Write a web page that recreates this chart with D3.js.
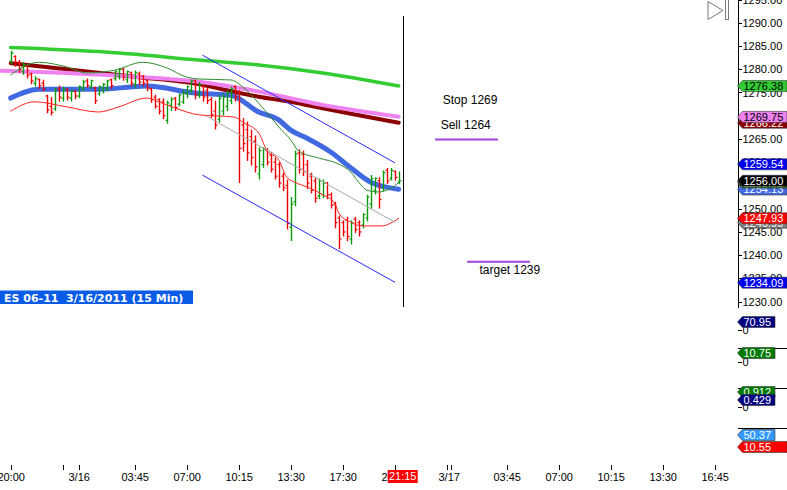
<!DOCTYPE html>
<html>
<head>
<meta charset="utf-8">
<title>ES 06-11 3/16/2011 (15 Min)</title>
<style>
  html, body { margin: 0; padding: 0; background: #fff; }
  svg { display: block; font-family: "Liberation Sans", Arial, sans-serif; }
  .axis text { font-size: 11px; fill: #000; }
  .axis line, .axis path { stroke: #000; shape-rendering: crispEdges; }
  .note { font-size: 12px; fill: #000; }
  .tag text { font-size: 11px; }
</style>
<script src="https://cdn.jsdelivr.net/npm/d3@7"></script>
</head>
<body>
<div id="main"></div>
<script>
// 15 minute bars, index 0 = 20:00 on 3/15
var barOpen  = [1281.75,1282.75,1281.5,1279.5,1280.75,1279,1277,1277.75,1277,1274.25,
                1272,1271.5,1275.75,1273.75,1275.5,1273.75,1275.25,1274.25,1276,1277.5,
                1276.25,1276,1274.75,1275.5,1276,1277.75,1278,1278.5,1280,1277.75,
                1279.25,1276.75,1279,1278.5,1277.5,1275.75,1274,1273.5,1273,1269,
                1272.25,1273.75,1272.5,1273,1274.75,1275.5,1277.5,1274.5,1276.25,1275.5,
                1273.5,1271,1269.25,1271,1272,1273.25,1276.25,1275,1268,1267,
                1265.5,1264.5,1257.5,1259.5,1262.5,1261.5,1260,1259.5,1257,1255,
                1246,1251.5,1262,1261.75,1259.5,1257,1256,1252.75,1253,1255.5,
                1253,1251,1248,1247,1247.5,1243.5,1247.75,1247,1246.5,1248,
                1251,1254,1256,1254.5,1258.25,1256.5,1258,1255.75];
var barHigh  = [1284,1283,1282,1281.5,1281,1279.25,1278.5,1278,1277.75,1274.5,
                1274,1276,1276.5,1276.25,1276,1275.5,1275.5,1276.5,1277.75,1278,
                1277.75,1276.25,1276.5,1277,1277.75,1278,1279.75,1280.25,1280.25,1279.75,
                1279.5,1279.75,1279.5,1278.75,1277.75,1276,1274.5,1273.75,1273.75,1273.25,
                1274,1274,1274.75,1275.5,1276.5,1277.75,1277.75,1277.25,1276.5,1276,
                1274,1273.25,1274.5,1274.75,1275.5,1276.25,1276.5,1275.5,1269.5,1268.75,
                1267,1265.75,1263.25,1263.25,1263,1262.25,1261,1260,1257.75,1256.25,
                1252.5,1262.5,1262.75,1262.5,1260.5,1257.75,1256.75,1256.5,1256.25,1255.75,
                1253.5,1251.5,1248.5,1247.5,1248.25,1247.5,1248.25,1247.5,1249,1253,
                1257.25,1256.75,1256.75,1258.25,1258.75,1258.75,1258.25,1258];
var barLow   = [1281.25,1280.75,1279.5,1279,1278.25,1277,1276.5,1276,1275.5,1270.75,
                1270.25,1271.25,1273.25,1273.25,1273.5,1273.25,1273.75,1274,1275.5,1276.25,
                1276,1272.75,1274.5,1275,1275.5,1276,1277.75,1278,1277.75,1277.25,
                1276.5,1276.25,1276.75,1276.5,1275.5,1273,1271.75,1270.5,1269.5,1268.5,
                1271.25,1271.25,1272.25,1272.75,1274,1275,1273.75,1274,1273.25,1272.75,
                1269.75,1267.25,1268.75,1270.25,1271.25,1272.75,1273.25,1255.75,1262.5,1260.5,
                1259.5,1258,1256.5,1259,1259.5,1258,1256.5,1254.75,1254,1245.75,
                1243.25,1250.75,1257.75,1257.25,1254.5,1253.5,1251.5,1252.25,1252.5,1252.25,
                1250.25,1246,1241.5,1244.25,1243.25,1242.5,1245,1244.25,1246,1247.5,
                1250.25,1253.25,1250.25,1254,1255.5,1256.25,1256.25,1255.5];
var barClose = [1283.5,1281.5,1280,1281,1278.75,1277.5,1278,1276.5,1275.75,1271.25,
                1270.75,1275.5,1274,1275.75,1274,1275.25,1274.25,1276.25,1277.25,1276.5,
                1277.5,1273.25,1276.25,1276.75,1277.5,1276.5,1279.5,1280,1278.25,1279.5,
                1277,1279.25,1277.25,1277,1276,1273.5,1272,1271,1270,1272.75,
                1273.5,1271.75,1274.5,1275,1276.25,1277.5,1274.5,1276.75,1274,1273.25,
                1270.25,1268,1273.75,1274,1275,1275.75,1274,1263,1264,1262,
                1261,1259,1262.5,1262.75,1260,1258.5,1257,1255.5,1254.5,1247,
                1251,1261.75,1258.5,1258,1255.5,1254,1252.25,1256,1255.5,1253,
                1250.75,1247,1243.5,1245,1244,1247,1245.5,1245,1248.75,1252.5,
                1256.5,1256.5,1252,1257.75,1256,1258.25,1256.75,1256];

// averages and bands, read as [bar index, price]
var maGreen   = [[0,1284.7],[22,1283.8],[47,1282.0],[62,1280.9],[78,1279.2],[97,1276.4]];
var maDarkRed = [[0,1281.3],[14,1280.0],[31,1278.4],[47,1276.8],[54,1275.5],[62,1274.1],[70,1273.0],[78,1271.6],[87,1270.1],[97,1268.5]];
var maPink    = [[-2.5,1279.7],[14,1279.2],[31,1278.4],[47,1277.3],[62,1275.2],[78,1272.3],[97,1269.8]];
var maBlue    = [[0,1273.8],[7,1275.7],[22,1275.7],[34,1276.4],[46,1274.9],[55,1274.4],[62,1270.8],[67,1269.1],[70,1266.9],[74,1265.2],[80,1262.2],[85,1258.8],[90,1255.7],[97,1254.2]];
var bandUpper = [[0,1278.8],[7,1281.5],[14,1280.5],[19,1279.2],[26,1279.8],[33,1281.5],[39,1280.3],[44,1278.3],[47,1277.9],[55,1277.7],[58,1276.2],[62,1272.7],[65,1269.7],[67,1267.6],[70,1264.8],[72,1262.4],[77,1260.9],[82,1259.6],[85,1257.9],[87,1255.7],[89,1254.0],[92,1253.6],[95,1254.4],[97,1255.6]];
var bandLower = [[0,1271.0],[6,1273.0],[14,1271.9],[22,1270.8],[27,1271.9],[34,1273.8],[37,1273.0],[41,1271.7],[47,1270.2],[56,1269.7],[58,1268.6],[62,1266.3],[64,1262.6],[67,1260.5],[69,1256.8],[71,1255.7],[74,1254.7],[78,1253.0],[81,1251.2],[82,1249.1],[85,1247.1],[88,1246.3],[93,1246.3],[95,1246.9],[97,1247.9]];
var trendLine   = [[49,1269.9],[96,1247.1]];
var channelUp   = [[48,1283.0],[96,1259.9]];
var channelDown = [[48,1257.2],[96,1234.2]];

// trade plan
var levelNames = ["sell", "target"];
var levelPrice = [1264.9, 1238.6];
var levelFrom  = [106.1, 114.1];
var levelTo    = [121.8, 129.8];
var noteTexts  = ["Stop 1269", "Sell 1264", "target 1239"];
var noteIndex  = [108, 107.5, 117.2];
var notePrice  = [1273.4, 1268.0, 1236.8];

// axes
var priceTicks    = [1230,1235,1240,1245,1250,1255,1260,1265,1270,1275,1280,1285,1290,1295];
var timeTicks     = [0,13,17,31,44,57,70,83,96,109,110,124,137,150,163,176];
var timeLabelIdx  = [0,17,31,44,57,70,83,96,109.5,124,137,150,163,176];
var timeLabels    = ["20:00","3/16","03:45","07:00","10:15","13:30","17:30","20:45","3/17","03:45","07:00","10:15","13:30","16:45"];
var cursorIndex   = 98;
var cursorLabel   = "21:15";

// price tags on the right axis
var tagKeys   = ["green","darkred","pink","chanUp","blue","upper","last","trend","lower","chanDown"];
var tagValues = [1276.38, 1268.5, 1269.75, 1259.54, 1254.13, 1255.62, 1256.00, 1247.0, 1247.93, 1234.09];
var tagTexts  = ["1276.38","1266.22","1269.75","1259.54","1254.13","1255.62","1256.00","1246.99","1247.93","1234.09"];

// indicator panels below the price panel
var panelMin = [-160, -31, -1.29, -32.5];
var panelMax = [177, 16.7, 1.16, 73.7];
var lowerTagPanel  = [0, 1, 2, 2, 3, 3];
var lowerTagValues = [70.95, 10.75, 0.912, 0.429, 50.37, 10.55];
var lowerTagTexts  = ["70.95","10.75","0.912","0.429","50.37","10.55"];

var width = 787, height = 490;
var axisX = 737.5;
var panelTop = [310, 348, 388, 428], panelBottom = [348, 388, 428, 460];
var upColor = "#0c990c", downColor = "#ee0000";

var tagStyle = {
    green:   { fill: "#33cc33", text: "#000" },
    darkred: { fill: "#8b0000", text: "#fff" },
    pink:    { fill: "#ee82ee", text: "#000" },
    chanUp:  { fill: "#0000f0", text: "#fff" },
    blue:    { fill: "#4169e1", text: "#fff" },
    upper:   { fill: "#1f7a1f", text: "#fff" },
    last:    { fill: "#000000", text: "#fff" },
    trend:   { fill: "#808080", text: "#fff" },
    lower:   { fill: "#ff0000", text: "#fff" },
    chanDown:{ fill: "#0000f0", text: "#fff" }
};
var lowerStyle = [
    { fill: "#000080", text: "#fff", right: 775 },
    { fill: "#007a00", text: "#fff", right: 775 },
    { fill: "#007a00", text: "#fff", right: 775 },
    { fill: "#000080", text: "#fff", right: 775 },
    { fill: "#3399ff", text: "#fff", right: 775 },
    { fill: "#ff0000", text: "#fff", right: 787 }
];

var x = d3.scaleLinear().domain([0, 176]).range([10.7, 714.7]);
var y = d3.scaleLinear().domain([1228.85, 1294.9]).range([307, 0]);

var svg = d3.select("#main").append("svg")
    .attr("width", width)
    .attr("height", height);

svg.append("defs").append("clipPath").attr("id", "plotClip")
    .append("rect").attr("x", 0).attr("y", 0).attr("width", axisX).attr("height", 307);

var plot = svg.append("g").attr("clip-path", "url(#plotClip)");

function pathOf(points, curve) {
    return d3.line()
        .x(function(d) { return x(d[0]); })
        .y(function(d) { return y(d[1]); })
        .curve(curve || d3.curveLinear)(points);
}

function drawLine(pts, color, w, curve) {
    plot.append("path")
        .attr("d", pathOf(pts, curve))
        .attr("fill", "none")
        .attr("stroke", color)
        .attr("stroke-width", w)
        .attr("stroke-linejoin", "round")
        .attr("stroke-linecap", "round");
}

// thick averages under the bars
drawLine(maGreen, "#33cc33", 3.5, d3.curveMonotoneX);
drawLine(maDarkRed, "#8b0000", 4, d3.curveMonotoneX);
drawLine(maPink, "#ee82ee", 4, d3.curveMonotoneX);
drawLine(maBlue, "#4169e1", 5, d3.curveMonotoneX);

// OHLC bars
var bars = d3.range(barOpen.length).map(function(i) {
    return { i: i, o: barOpen[i], h: barHigh[i], l: barLow[i], c: barClose[i] };
});

var bar = plot.selectAll("g.bar")
    .data(bars)
    .enter()
    .append("g")
    .attr("class", "bar")
    .style("stroke", function(d) { return d.c >= d.o ? upColor : downColor; });

function bx(d) { return Math.round(x(d.i)) + 0.5; }

bar.append("line")
    .attr("x1", bx).attr("x2", bx)
    .attr("y1", function(d) { return y(d.h); })
    .attr("y2", function(d) { return y(d.l) + 1; })
    .style("stroke-width", 1.4);
bar.append("line")
    .attr("x1", function(d) { return bx(d) - 2; }).attr("x2", bx)
    .attr("y1", function(d) { return y(d.o); })
    .attr("y2", function(d) { return y(d.o); })
    .style("stroke-width", 1.2);
bar.append("line")
    .attr("x1", bx).attr("x2", function(d) { return bx(d) + 2; })
    .attr("y1", function(d) { return y(d.c); })
    .attr("y2", function(d) { return y(d.c); })
    .style("stroke-width", 1.2);

// thin bands, trend and channel
drawLine(bandUpper, "#2e8b2e", 1, d3.curveMonotoneX);
drawLine(bandLower, "#ff2020", 1, d3.curveMonotoneX);
drawLine(trendLine, "#a8a8a8", 1);
drawLine(channelUp, "#2a2aff", 1);
drawLine(channelDown, "#2a2aff", 1);

// trade levels and notes
plot.selectAll("line.level")
    .data(levelNames)
    .enter()
    .append("line")
    .attr("class", "level")
    .attr("x1", function(d, i) { return x(levelFrom[i]); })
    .attr("x2", function(d, i) { return x(levelTo[i]); })
    .attr("y1", function(d, i) { return y(levelPrice[i]); })
    .attr("y2", function(d, i) { return y(levelPrice[i]); })
    .attr("stroke", "#a040e0")
    .attr("stroke-width", 2);

plot.selectAll("text.note")
    .data(noteTexts)
    .enter()
    .append("text")
    .attr("class", "note")
    .attr("x", function(d, i) { return x(noteIndex[i]); })
    .attr("y", function(d, i) { return y(notePrice[i]); })
    .attr("dy", "0.35em")
    .text(function(d) { return d; });

// current time cursor
svg.append("line")
    .attr("x1", Math.round(x(cursorIndex)) + 0.5)
    .attr("x2", Math.round(x(cursorIndex)) + 0.5)
    .attr("y1", 16).attr("y2", 307)
    .attr("stroke", "#000")
    .attr("shape-rendering", "crispEdges");

// price axis
svg.append("g")
    .attr("class", "axis")
    .attr("transform", "translate(" + axisX + ",0)")
    .call(d3.axisRight(y).tickValues(priceTicks).tickFormat(d3.format(".2f"))
        .tickSize(4).tickPadding(1).tickSizeOuter(0));

// indicator panels
var panelY = panelMin.map(function(mn, k) {
    return d3.scaleLinear().domain([mn, panelMax[k]]).range([panelBottom[k], panelTop[k]]);
});

svg.selectAll("line.sep")
    .data([1, 2, 3])
    .enter()
    .append("line")
    .attr("class", "sep")
    .attr("x1", axisX).attr("x2", width)
    .attr("y1", function(k) { return panelTop[k] + 0.5; })
    .attr("y2", function(k) { return panelTop[k] + 0.5; })
    .attr("stroke", "#000")
    .attr("shape-rendering", "crispEdges");

[0, 1, 2].forEach(function(k) {
    svg.append("g")
        .attr("class", "axis")
        .attr("transform", "translate(" + axisX + ",0)")
        .call(d3.axisRight(panelY[k]).tickValues([0]).tickFormat(d3.format("d"))
            .tickSize(4).tickPadding(1).tickSizeOuter(0))
        .select(".domain").remove();
});

// value tags
function tagPath(yc, right) {
    return "M" + axisX + "," + yc +
        "L" + (axisX + 5) + "," + (yc - 5.5) +
        "L" + right + "," + (yc - 5.5) +
        "L" + right + "," + (yc + 5.5) +
        "L" + (axisX + 5) + "," + (yc + 5.5) + "Z";
}

var tags = svg.selectAll("g.tag")
    .data(tagKeys)
    .enter()
    .append("g")
    .attr("class", "tag");
tags.append("path")
    .attr("d", function(d, i) { return tagPath(y(tagValues[i]), width); })
    .attr("fill", function(d) { return tagStyle[d].fill; })
    .attr("stroke", "#333")
    .attr("stroke-width", 0.6);
tags.append("text")
    .attr("x", axisX + 6)
    .attr("y", function(d, i) { return y(tagValues[i]); })
    .attr("dy", "0.36em")
    .attr("fill", function(d) { return tagStyle[d].text; })
    .text(function(d, i) { return tagTexts[i]; });

var lowTags = svg.selectAll("g.lowtag")
    .data(lowerTagValues)
    .enter()
    .append("g")
    .attr("class", "tag lowtag");
lowTags.append("path")
    .attr("d", function(d, i) { return tagPath(panelY[lowerTagPanel[i]](d), lowerStyle[i].right); })
    .attr("fill", function(d, i) { return lowerStyle[i].fill; })
    .attr("stroke", "#333")
    .attr("stroke-width", 0.6);
lowTags.append("text")
    .attr("x", axisX + 6)
    .attr("y", function(d, i) { return panelY[lowerTagPanel[i]](d); })
    .attr("dy", "0.36em")
    .attr("fill", function(d, i) { return lowerStyle[i].text; })
    .text(function(d, i) { return lowerTagTexts[i]; });

// time axis
var tAxis = svg.append("g")
    .attr("class", "axis")
    .attr("transform", "translate(0,465)")
    .call(d3.axisBottom(x).tickValues(timeTicks).tickFormat("").tickSize(5).tickSizeOuter(0));
tAxis.select(".domain").remove();

var labelOf = {};
timeLabelIdx.forEach(function(v, i) { labelOf[v] = timeLabels[i]; });
var tLabels = svg.append("g")
    .attr("class", "axis")
    .attr("transform", "translate(0,465)")
    .call(d3.axisBottom(x).tickValues(timeLabelIdx)
        .tickFormat(function(d) { return labelOf[d]; })
        .tickSize(0).tickPadding(8));
tLabels.select(".domain").remove();

// current time box on the time axis
var cx = x(cursorIndex);
svg.append("rect")
    .attr("x", cx - 15).attr("y", 470)
    .attr("width", 30).attr("height", 13)
    .attr("fill", "#ff0000");
svg.append("text")
    .attr("x", cx).attr("y", 476.5)
    .attr("dy", "0.36em")
    .attr("text-anchor", "middle")
    .attr("fill", "#fff")
    .style("font-size", "11px")
    .text(cursorLabel);

// symbol label
svg.append("rect")
    .attr("x", 0).attr("y", 290.5)
    .attr("width", 193).attr("height", 13.5)
    .attr("fill", "#0a5ce6");
svg.append("text")
    .attr("x", 4).attr("y", 301.5)
    .attr("fill", "#fff")
    .style("font-family", "'DejaVu Sans', Verdana, sans-serif")
    .style("font-weight", "bold")
    .style("font-size", "11px")
    .attr("xml:space", "preserve")
    .text("ES 06-11  3/16/2011 (15 Min)");

// scroll-to-end button
svg.append("path")
    .attr("d", "M708,1.5L723,10.5L708,19.5Z")
    .attr("fill", "#fff")
    .attr("stroke", "#777");
svg.append("rect")
    .attr("x", 725.5).attr("y", -1)
    .attr("width", 3).attr("height", 20.5)
    .attr("fill", "#fff")
    .attr("stroke", "#777");
</script>
</body>
</html>
